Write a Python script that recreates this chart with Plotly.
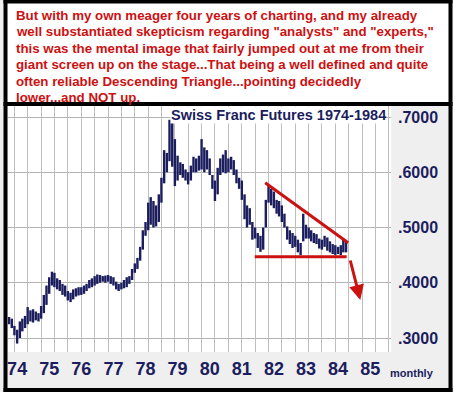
import plotly.graph_objects as go
import pandas as pd

# ---------------- data (monthly high / low, Swiss Franc futures) ----------------
start_month = "1973-10-01"
highs = [
    .338, .335, .322,
    .315, .330, .335, .340, .356, .350, .352, .348, .345, .358, .378, .395,
    .410, .420, .418, .408, .405, .398, .395, .385, .382, .388, .390, .392,
    .392, .395, .398, .405, .408, .412, .415, .414, .412, .413, .414, .412,
    .410, .402, .398, .400, .405, .410, .412, .425, .435, .445, .465, .495,
    .510, .545, .555, .548, .540, .560, .590, .640, .635, .695, .690, .660,
    .630, .618, .615, .605, .600, .612, .628, .625, .630, .660, .645, .640,
    .625, .595, .585, .608, .625, .632, .640, .625, .628, .622, .605, .590,
    .585, .560, .540, .535, .510, .500, .490, .485, .500, .550, .575, .570,
    .565, .550, .548, .540, .525, .502, .495, .490, .485, .478, .472, .525,
    .505, .500, .495, .490, .488, .480, .478, .485, .482, .475, .470, .468,
    .465, .468, .478, .475,
]
lows = [
    .325, .318, .305,
    .290, .300, .312, .318, .325, .330, .328, .332, .330, .335, .345, .360,
    .380, .395, .392, .388, .385, .378, .375, .368, .365, .370, .375, .377,
    .378, .380, .385, .390, .392, .395, .398, .400, .402, .400, .402, .398,
    .395, .388, .385, .388, .390, .392, .398, .405, .418, .425, .440, .460,
    .485, .495, .505, .500, .502, .510, .545, .580, .600, .620, .610, .575,
    .585, .595, .590, .585, .578, .585, .600, .600, .603, .605, .600, .605,
    .595, .570, .548, .560, .595, .600, .598, .600, .605, .595, .580, .570,
    .550, .515, .500, .505, .478, .480, .463, .456, .460, .500, .545, .540,
    .535, .525, .520, .510, .500, .478, .470, .463, .465, .455, .450, .475,
    .480, .480, .475, .472, .470, .462, .460, .465, .458, .455, .452, .450,
    .452, .450, .455, .455,
]

year_tick_dates = [f"{y}-01-01" for y in range(1974, 1986)]
year_tick_labels = ["74", "75", "76", "77", "78", "79", "80", "81", "82", "83", "84", "85"]
price_tick_vals = [0.3, 0.4, 0.5, 0.6, 0.7]
price_tick_labels = [".3000", ".4000", ".5000", ".6000", ".7000"]

# hand-drawn descending triangle and arrow
upper_line_dates = ["1981-09-24", "1984-04-25"]
upper_line_prices = [0.581, 0.4725]
base_line_dates = ["1981-05-28", "1984-04-08"]
base_line_prices = [0.447, 0.447]
arrow_tail = ("1984-05-15", 0.443)
arrow_head = ("1984-09-10", 0.369)

paragraph_lines = [
    "But with my own meager four years of charting, and my already",
    "well substantiated skepticism regarding \"analysts\" and \"experts,\"",
    "this was the mental image that fairly jumped out at me from their",
    "giant screen up on the stage...That being a well defined and quite",
    "often reliable Descending Triangle...pointing decidedly",
    "lower...and NOT up.",
]
chart_title = "Swiss Franc Futures 1974-1984"

# ---------------- layout geometry ----------------
W, H = 457, 397
L, R, T, B = 8, 392, 106, 352


def fx(p):
    return (p - L) / (R - L)


def fy(p):
    return (B - p) / (B - T)


NAVY = "#1b1d5e"
RED = "#cc1111"
PANEL = "#efefef"
FONT = "Arial, Liberation Sans, sans-serif"

months = pd.date_range(start_month, periods=len(highs), freq="MS")
bx, by = [], []
for d, lo, hi in zip(months, lows, highs):
    bx += [d, d, None]
    by += [lo, hi, None]

fig = go.Figure()
# invisible trace that carries the 5-month vertical grid axis
fig.add_trace(go.Scatter(x=list(months), y=lows, xaxis="x2", yaxis="y", mode="lines",
                         opacity=0, hoverinfo="skip", showlegend=False))
fig.add_trace(go.Scatter(x=bx, y=by, mode="lines", line=dict(color=NAVY, width=2.4),
                         showlegend=False, hoverinfo="skip"))
fig.add_trace(go.Scatter(x=upper_line_dates, y=upper_line_prices, mode="lines",
                         line=dict(color=RED, width=3), showlegend=False))
fig.add_trace(go.Scatter(x=base_line_dates, y=base_line_prices, mode="lines",
                         line=dict(color=RED, width=3), showlegend=False))

fig.add_annotation(x=arrow_head[0], y=arrow_head[1], ax=arrow_tail[0], ay=arrow_tail[1],
                   xref="x", yref="y", axref="x", ayref="y", text="", showarrow=True,
                   arrowhead=2, arrowsize=1, arrowwidth=3, arrowcolor=RED)

x_range = ["1973-09-19", "1985-09-06"]
y_range = [0.2747, 0.7199]

fig.update_layout(
    width=W, height=H, autosize=False,
    margin=dict(l=L, r=W - R, t=T, b=H - B, pad=0),
    paper_bgcolor=PANEL, plot_bgcolor="white",
    font=dict(family=FONT, color=NAVY),
    xaxis=dict(type="date", range=x_range, tickmode="array", tickvals=year_tick_dates,
               ticktext=year_tick_labels, showgrid=False, zeroline=False, ticks="",
               tickfont=dict(size=18, color=NAVY, weight="bold"), ticklabelstandoff=4,
               showline=False, automargin=False),
    xaxis2=dict(type="date", range=x_range, overlaying="x", tick0="1973-12-01", dtick="M5",
                showgrid=True, gridcolor="#bdbdbd", gridwidth=1, showticklabels=False,
                ticks="", zeroline=False, showline=False, automargin=False),
    yaxis=dict(range=y_range, side="right", tickmode="array", tickvals=price_tick_vals,
               ticktext=price_tick_labels, showgrid=True, gridcolor="#b4b4b4", gridwidth=1,
               zeroline=False, ticks="", ticklabelstandoff=5,
               tickfont=dict(size=16, color=NAVY, weight="bold"), showline=False,
               automargin=False),
    showlegend=False,
)

shapes = []
# white outside strip (right / bottom beyond frame)
shapes.append(dict(type="rect", xref="paper", yref="paper", x0=fx(452.5), x1=fx(W + 2),
                   y0=fy(-2), y1=fy(H + 2), fillcolor="white", line_width=0, layer="below"))
shapes.append(dict(type="rect", xref="paper", yref="paper", x0=fx(-2), x1=fx(W + 2),
                   y0=fy(392), y1=fy(H + 2), fillcolor="white", line_width=0, layer="below"))
# white text box
shapes.append(dict(type="rect", xref="paper", yref="paper", x0=fx(3.5), x1=fx(452.5),
                   y0=fy(106), y1=fy(0), fillcolor="white", line_width=0, layer="below"))
# clean edge between plot and label panel
shapes.append(dict(type="rect", xref="paper", yref="paper", x0=fx(391.2), x1=fx(395),
                   y0=fy(388), y1=fy(106), fillcolor=PANEL, line_width=0, layer="above"))
# black frame pieces
for (x0, x1, y0, y1) in [(3.5, 452.5, 0, 3.5), (3.5, 7.5, 0, 392), (448.5, 452.5, 0, 392),
                         (3.5, 452.5, 388, 392), (3.5, 452.5, 102, 106)]:
    shapes.append(dict(type="rect", xref="paper", yref="paper", x0=fx(x0), x1=fx(x1),
                       y0=fy(y1), y1=fy(y0), fillcolor="black", line_width=0, layer="above"))
fig.update_layout(shapes=shapes)

for i, line in enumerate(paragraph_lines):
    fig.add_annotation(xref="paper", yref="paper", x=fx(14), y=fy(15.5 + 16.4 * i),
                       xanchor="left", yanchor="middle", align="left", showarrow=False,
                       text=line, font=dict(family=FONT, size=13.3, color=RED, weight="bold"))
fig.add_annotation(xref="paper", yref="paper", x=fx(278), y=fy(115), xanchor="center",
                   yanchor="middle", showarrow=False, text=chart_title, bgcolor="white",
                   borderpad=0, font=dict(family=FONT, size=14.5, color=NAVY, weight="bold"))
fig.add_annotation(xref="paper", yref="paper", x=fx(412), y=fy(373), xanchor="center",
                   yanchor="middle", showarrow=False, text="monthly",
                   font=dict(family=FONT, size=11, color=NAVY, weight="bold"))

fig.write_html("out.html", config={"displayModeBar": False},
               post_script="document.body.style.margin='0';document.body.style.padding='0';")
